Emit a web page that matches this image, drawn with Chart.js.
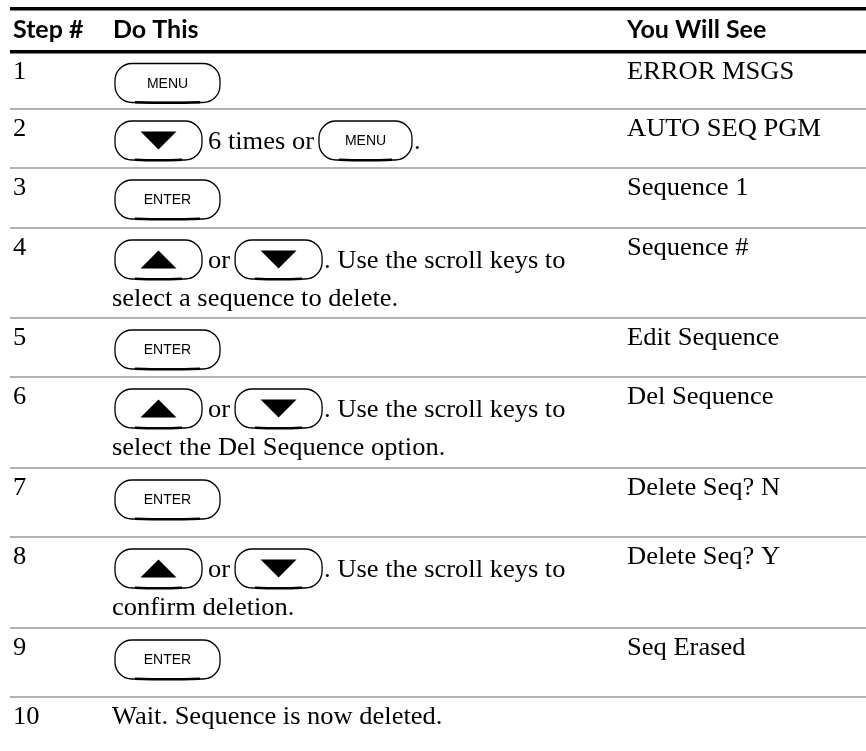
<!DOCTYPE html>
<html>
<head>
<meta charset="utf-8">
<script src="https://cdn.jsdelivr.net/npm/chart.js@4.4.1/dist/chart.umd.min.js"></script>
<style>
  html, body { margin: 0; padding: 0; background: #fff; }
  canvas { display: block; }
</style>
</head>
<body>
<canvas id="myChart" width="866" height="751"></canvas>
<script>
// table content
var headers = ['Step #', 'Do This', 'You Will See'];
var steps = ['1', '2', '3', '4', '5', '6', '7', '8', '9', '10'];
// {KEY} marks a front panel key drawn as a button
var actions = [
  ['{MENU}'],
  ['{DOWN} 6 times or {MENU}.'],
  ['{ENTER}'],
  ['{UP} or {DOWN}. Use the scroll keys to', 'select a sequence to delete.'],
  ['{ENTER}'],
  ['{UP} or {DOWN}. Use the scroll keys to', 'select the Del Sequence option.'],
  ['{ENTER}'],
  ['{UP} or {DOWN}. Use the scroll keys to', 'confirm deletion.'],
  ['{ENTER}'],
  ['Wait. Sequence is now deleted.']
];
var results = ['ERROR MSGS', 'AUTO SEQ PGM', 'Sequence 1', 'Sequence #', 'Edit Sequence',
  'Del Sequence', 'Delete Seq? N', 'Delete Seq? Y', 'Seq Erased', ''];

// layout (in scale units, 1 unit = 1px)
var rowRules = [9, 51.5, 109, 168, 228, 318, 377, 468, 537, 628, 697];
var colX = [13, 113, 627];
var SERIF = '25px "Liberation Serif", "Times New Roman", serif';
var SERIF_SX = 1.06;
var HEAD = 'bold 25px Lato, "Open Sans", sans-serif';
var KEYFONT = '14px "Liberation Sans", Arial, sans-serif';

function serifWidth(ctx, s) {
  ctx.font = SERIF;
  return ctx.measureText(s).width * SERIF_SX;
}
function serifText(ctx, s, px, py) {
  ctx.save();
  ctx.translate(px, py);
  ctx.scale(SERIF_SX, 1);
  ctx.font = SERIF;
  ctx.textAlign = 'left';
  ctx.textBaseline = 'alphabetic';
  ctx.fillStyle = '#000';
  ctx.fillText(s, 0, 0);
  ctx.restore();
}

function drawKey(ctx, name, left, top, w, h) {
  ctx.save();
  ctx.strokeStyle = '#000';
  ctx.lineWidth = 1.3;
  ctx.beginPath();
  ctx.roundRect(left, top, w, h, 17);
  ctx.stroke();
  // heavier bottom edge
  ctx.lineWidth = 2.4;
  ctx.beginPath();
  ctx.moveTo(left + 20, top + h - 0.3);
  ctx.quadraticCurveTo(left + w / 2, top + h + 0.8, left + w - 20, top + h - 0.3);
  ctx.stroke();
  var cx = left + w / 2, cy = top + h / 2;
  ctx.fillStyle = '#000';
  if (name === 'UP' || name === 'DOWN') {
    var tw = 36, th = 18, d = name === 'UP' ? -1 : 1;
    ctx.beginPath();
    ctx.moveTo(cx - tw / 2, cy - d * th / 2);
    ctx.lineTo(cx + tw / 2, cy - d * th / 2);
    ctx.lineTo(cx, cy + d * th / 2);
    ctx.closePath();
    ctx.fill();
  } else {
    ctx.font = KEYFONT;
    ctx.textAlign = 'center';
    ctx.textBaseline = 'middle';
    ctx.fillText(name, cx, cy + 1);
  }
  ctx.restore();
}

var tablePlugin = {
  id: 'stepTable',
  afterDraw: function (chart) {
    var ctx = chart.ctx;
    var xs = chart.scales.x, ys = chart.scales.y;
    var X = function (v) { return xs.getPixelForValue(v); };
    var Y = function (v) { return ys.getPixelForValue(v); };

    // header
    ctx.save();
    ctx.font = HEAD;
    ctx.fillStyle = '#000';
    ctx.textBaseline = 'alphabetic';
    headers.forEach(function (h, i) {
      ctx.fillText(h, X(colX[i]), Y(38));
    });
    ctx.restore();

    steps.forEach(function (step, r) {
      var top = rowRules[r + 1];
      serifText(ctx, step, X(colX[0]), Y(top + 27));
      if (results[r]) serifText(ctx, results[r], X(colX[2]), Y(top + 27));

      var lines = actions[r];
      var first = lines[0];
      var parts = first.split(/(\{[A-Z]+\})/).filter(function (p) { return p !== ''; });
      var hasKey = parts.some(function (p) { return p.charAt(0) === '{'; });
      var base = hasKey ? top + 12 + 28 : top + 27;
      if (hasKey) {
        var keyTop = top + 12, keyH = 39;
        var px = colX[1] + 2;
        var only = parts.length === 1;
        parts.forEach(function (p, k) {
          if (p.charAt(0) === '{') {
            var name = p.slice(1, -1);
            var w = (name === 'UP' || name === 'DOWN') ? 87 : (only ? 105 : 93);
            drawKey(ctx, name, X(px), Y(keyTop), w, keyH);
            px += w + 2;
          } else {
            var t = p.trim();
            if (p.charAt(0) === ' ') px += 4;
            serifText(ctx, t, X(px), Y(base));
            px += serifWidth(ctx, t) + 5;
          }
        });
      } else {
        serifText(ctx, first, X(colX[1] - 1), Y(base));
      }
      for (var l = 1; l < lines.length; l++) {
        serifText(ctx, lines[l], X(colX[1] - 1), Y(base + 38 * l));
      }
    });
  }
};

var ctx = document.getElementById('myChart').getContext('2d');
var chart = new Chart(ctx, {
  type: 'scatter',
  data: { datasets: [] },
  options: {
    responsive: false,
    animation: false,
    events: [],
    layout: { padding: { left: 10, right: 0, top: 0, bottom: 0 } },
    plugins: {
      legend: { display: false },
      tooltip: { enabled: false }
    },
    scales: {
      x: { type: 'linear', display: false, min: 10, max: 866 },
      y: {
        type: 'linear',
        min: 0,
        max: 751,
        reverse: true,
        position: 'left',
        afterBuildTicks: function (scale) {
          scale.ticks = rowRules.map(function (v) { return { value: v }; });
        },
        ticks: { display: false },
        border: { display: false },
        grid: {
          drawTicks: false,
          color: function (c) { return c.index < 2 ? '#000' : '#b3b3b3'; },
          lineWidth: function (c) { return c.index < 2 ? 3.5 : 2; }
        }
      }
    }
  },
  plugins: [tablePlugin]
});
</script>
</body>
</html>
